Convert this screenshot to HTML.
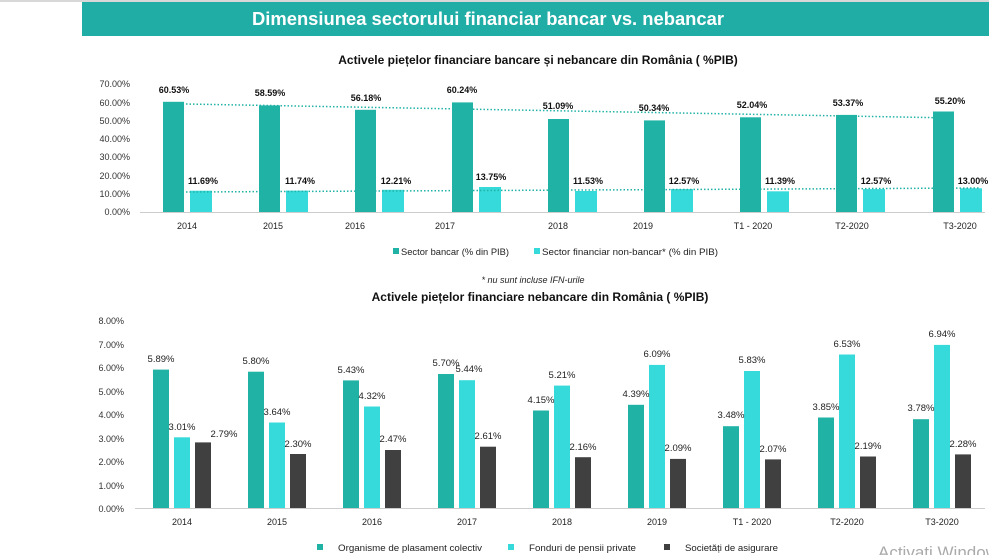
<!DOCTYPE html>
<html><head><meta charset="utf-8"><style>
body{margin:0;width:989px;height:555px;background:#fff;overflow:hidden;font-family:"Liberation Sans",sans-serif}
</style></head><body>
<svg width="989" height="555" xmlns="http://www.w3.org/2000/svg" font-family="Liberation Sans, sans-serif">
<rect x="0" y="0" width="989" height="2" fill="#d8d8d8"/>
<rect x="82" y="2" width="907" height="34" fill="#20ada6"/>
<text x="252" y="25" font-size="18" font-weight="bold" fill="#fff" textLength="472" lengthAdjust="spacingAndGlyphs">Dimensiunea sectorului financiar bancar vs. nebancar</text>
<text x="538" y="64" font-size="12" font-weight="bold" fill="#111" text-anchor="middle">Activele piețelor financiare bancare și nebancare din România ( %PIB)</text>
<g font-size="9" fill="#333" text-anchor="end">
<text x="130" y="87">70.00%</text><text x="130" y="106">60.00%</text><text x="130" y="124">50.00%</text><text x="130" y="142">40.00%</text><text x="130" y="160">30.00%</text><text x="130" y="179">20.00%</text><text x="130" y="197">10.00%</text><text x="130" y="215">0.00%</text>
</g>
<line x1="140" y1="212.5" x2="985" y2="212.5" stroke="#ccc"/>
<g fill="#20b2a5">
<rect x="163" y="101.8" width="21" height="110.2"/><rect x="259" y="105.4" width="21" height="106.6"/><rect x="355" y="109.8" width="21" height="102.2"/><rect x="452" y="102.4" width="21" height="109.6"/><rect x="548" y="119" width="21" height="93"/><rect x="644" y="120.4" width="21" height="91.6"/><rect x="740" y="117.3" width="21" height="94.7"/><rect x="836" y="114.9" width="21" height="97.1"/><rect x="933" y="111.5" width="21" height="100.5"/>
</g>
<g fill="#37dada">
<rect x="190" y="190.7" width="22" height="21.3"/><rect x="286" y="190.6" width="22" height="21.4"/><rect x="382" y="189.8" width="22" height="22.2"/><rect x="479" y="187" width="22" height="25"/><rect x="575" y="191" width="22" height="21"/><rect x="671" y="189.1" width="22" height="22.9"/><rect x="767" y="191.3" width="22" height="20.7"/><rect x="863" y="189.1" width="22" height="22.9"/><rect x="960" y="188.3" width="22" height="23.7"/>
</g>
<line x1="186" y1="104" x2="955" y2="118" stroke="#20b2a5" stroke-width="1.5" stroke-dasharray="1.5,2"/>
<line x1="186" y1="192" x2="980" y2="188" stroke="#20b2a5" stroke-width="1.5" stroke-dasharray="1.5,2"/>
<g font-size="9" font-weight="bold" fill="#111" text-anchor="middle">
<text x="174" y="93">60.53%</text><text x="270" y="96">58.59%</text><text x="366" y="101">56.18%</text><text x="462" y="93">60.24%</text><text x="558" y="109">51.09%</text><text x="654" y="111">50.34%</text><text x="752" y="108">52.04%</text><text x="848" y="106">53.37%</text><text x="950" y="104">55.20%</text>
<text x="203" y="184">11.69%</text><text x="300" y="184">11.74%</text><text x="396" y="184">12.21%</text><text x="491" y="180">13.75%</text><text x="588" y="184">11.53%</text><text x="684" y="184">12.57%</text><text x="780" y="184">11.39%</text><text x="876" y="184">12.57%</text><text x="973" y="184">13.00%</text>
</g>
<g font-size="9" fill="#222" text-anchor="middle">
<text x="187" y="229">2014</text><text x="273" y="229">2015</text><text x="355" y="229">2016</text><text x="445" y="229">2017</text><text x="558" y="229">2018</text><text x="643" y="229">2019</text><text x="753" y="229">T1 - 2020</text><text x="852" y="229">T2-2020</text><text x="960" y="229">T3-2020</text>
</g>
<rect x="393" y="248" width="6" height="6" fill="#20b2a5"/><text x="401" y="255" font-size="9" fill="#222" textLength="108" lengthAdjust="spacingAndGlyphs">Sector bancar (% din PIB)</text>
<rect x="534" y="248" width="6" height="6" fill="#37dada"/><text x="542" y="255" font-size="9" fill="#222" textLength="176" lengthAdjust="spacingAndGlyphs">Sector financiar non-bancar*  (% din PIB)</text>
<text x="533" y="283" font-size="9" font-style="italic" fill="#222" text-anchor="middle">* nu sunt incluse IFN-urile</text>
<text x="540" y="301" font-size="12" font-weight="bold" fill="#111" text-anchor="middle">Activele piețelor financiare nebancare din România ( %PIB)</text>
<g font-size="9" fill="#333" text-anchor="end">
<text x="124" y="324">8.00%</text><text x="124" y="348">7.00%</text><text x="124" y="371">6.00%</text><text x="124" y="395">5.00%</text><text x="124" y="418">4.00%</text><text x="124" y="442">3.00%</text><text x="124" y="465">2.00%</text><text x="124" y="489">1.00%</text><text x="124" y="512">0.00%</text>
</g>
<line x1="135" y1="508.5" x2="985" y2="508.5" stroke="#ccc"/>
<g fill="#20b2a5">
<rect x="153" y="369.6" width="16" height="138.4"/><rect x="248" y="371.7" width="16" height="136.3"/><rect x="343" y="380.4" width="16" height="127.6"/><rect x="438" y="374" width="16" height="134"/><rect x="533" y="410.5" width="16" height="97.5"/><rect x="628" y="404.8" width="16" height="103.2"/><rect x="723" y="426.2" width="16" height="81.8"/><rect x="818" y="417.5" width="16" height="90.5"/><rect x="913" y="419.2" width="16" height="88.8"/>
</g>
<g fill="#37dada">
<rect x="174" y="437.3" width="16" height="70.7"/><rect x="269" y="422.5" width="16" height="85.5"/><rect x="364" y="406.5" width="16" height="101.5"/><rect x="459" y="380.2" width="16" height="127.8"/><rect x="554" y="385.6" width="16" height="122.4"/><rect x="649" y="364.9" width="16" height="143.1"/><rect x="744" y="371" width="16" height="137"/><rect x="839" y="354.5" width="16" height="153.5"/><rect x="934" y="344.9" width="16" height="163.1"/>
</g>
<g fill="#404040">
<rect x="195" y="442.4" width="16" height="65.6"/><rect x="290" y="454" width="16" height="54"/><rect x="385" y="450" width="16" height="58"/><rect x="480" y="446.7" width="16" height="61.3"/><rect x="575" y="457.2" width="16" height="50.8"/><rect x="670" y="458.9" width="16" height="49.1"/><rect x="765" y="459.4" width="16" height="48.6"/><rect x="860" y="456.5" width="16" height="51.5"/><rect x="955" y="454.4" width="16" height="53.6"/>
</g>
<g font-size="9.5" fill="#222" text-anchor="middle">
<text x="161" y="362">5.89%</text><text x="182" y="430">3.01%</text><text x="224" y="437">2.79%</text>
<text x="256" y="364">5.80%</text><text x="277" y="415">3.64%</text><text x="298" y="447">2.30%</text>
<text x="351" y="373">5.43%</text><text x="372" y="399">4.32%</text><text x="393" y="442">2.47%</text>
<text x="446" y="366">5.70%</text><text x="469" y="372">5.44%</text><text x="488" y="439">2.61%</text>
<text x="541" y="403">4.15%</text><text x="562" y="378">5.21%</text><text x="583" y="450">2.16%</text>
<text x="636" y="397">4.39%</text><text x="657" y="357">6.09%</text><text x="678" y="451">2.09%</text>
<text x="731" y="418">3.48%</text><text x="752" y="363">5.83%</text><text x="773" y="452">2.07%</text>
<text x="826" y="410">3.85%</text><text x="847" y="347">6.53%</text><text x="868" y="449">2.19%</text>
<text x="921" y="411">3.78%</text><text x="942" y="337">6.94%</text><text x="963" y="447">2.28%</text>
</g>
<g font-size="9" fill="#222" text-anchor="middle">
<text x="182" y="525">2014</text><text x="277" y="525">2015</text><text x="372" y="525">2016</text><text x="467" y="525">2017</text><text x="562" y="525">2018</text><text x="657" y="525">2019</text><text x="752" y="525">T1 - 2020</text><text x="847" y="525">T2-2020</text><text x="942" y="525">T3-2020</text>
</g>
<rect x="317" y="544" width="6" height="6" fill="#20b2a5"/><text x="338" y="551" font-size="9" fill="#222" textLength="144" lengthAdjust="spacingAndGlyphs">Organisme de plasament colectiv</text>
<rect x="508" y="544" width="6" height="6" fill="#37dada"/><text x="529" y="551" font-size="9" fill="#222" textLength="107" lengthAdjust="spacingAndGlyphs">Fonduri de pensii private</text>
<rect x="664" y="544" width="6" height="6" fill="#404040"/><text x="685" y="551" font-size="9" fill="#222" textLength="93" lengthAdjust="spacingAndGlyphs">Societăți de asigurare</text>
<text x="878" y="558" font-size="17" fill="#aaa">Activati Windows</text>
</svg>
</body></html>
